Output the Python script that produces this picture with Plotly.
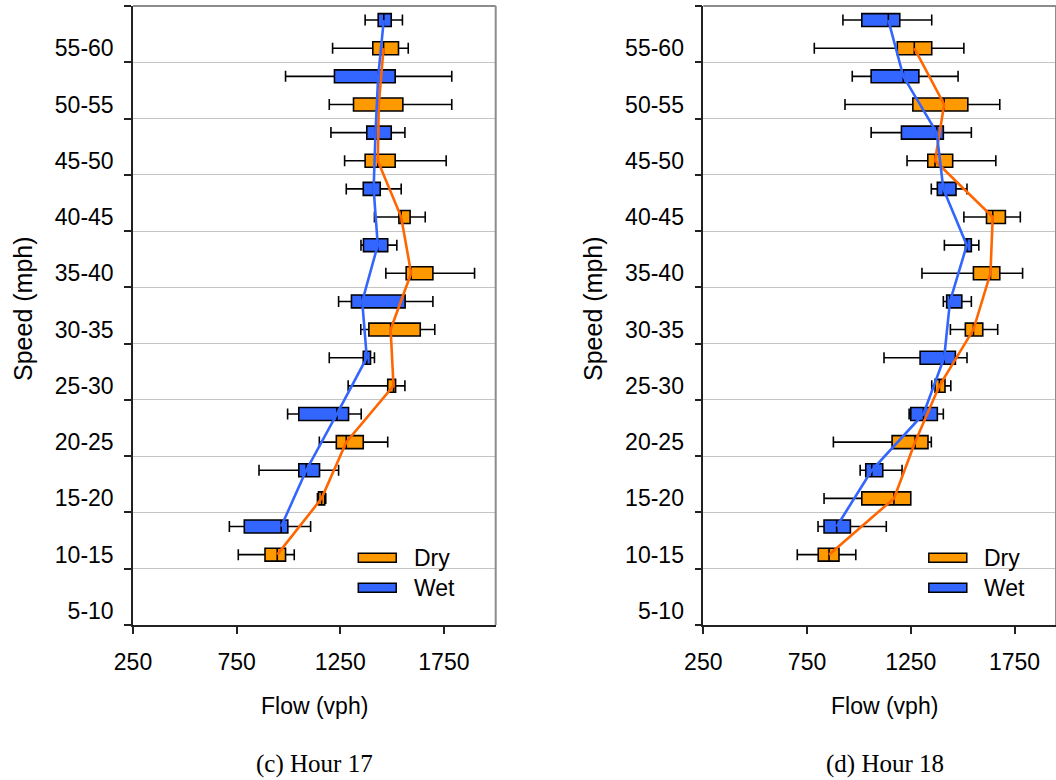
import plotly.graph_objects as go

# Speed bins (bottom to top); the 5-10 bin has no observations
speed_bins = ["5-10", "10-15", "15-20", "20-25", "25-30", "30-35",
              "35-40", "40-45", "45-50", "50-55", "55-60"]
data_bins = speed_bins[1:]

flow_ticks = [250, 750, 1250, 1750]

# Hour 17 flow distributions (vph), bins 10-15 ... 55-60
h17_dry_min = [758, 1140, 1149, 1288, 1349, 1470, 1415, 1271, 1197, 1213]
h17_dry_q1 = [887, 1145, 1231, 1479, 1388, 1568, 1533, 1370, 1314, 1407]
h17_dry_med = [946, 1160, 1279, 1507, 1493, 1592, 1544, 1431, 1436, 1459]
h17_dry_q3 = [986, 1175, 1361, 1517, 1636, 1697, 1587, 1515, 1552, 1531]
h17_dry_max = [1028, 1180, 1479, 1562, 1706, 1898, 1660, 1761, 1788, 1578]

h17_wet_min = [715, 858, 996, 1197, 1242, 1350, 1279, 1205, 986, 1370]
h17_wet_q1 = [787, 1050, 1050, 1361, 1304, 1362, 1361, 1378, 1222, 1433]
h17_wet_med = [965, 1086, 1234, 1378, 1356, 1431, 1411, 1420, 1433, 1460]
h17_wet_q3 = [997, 1150, 1290, 1396, 1563, 1479, 1443, 1496, 1515, 1496]
h17_wet_max = [1107, 1242, 1351, 1415, 1697, 1523, 1544, 1562, 1788, 1550]

# Hour 18 flow distributions (vph), bins 10-15 ... 55-60
h18_dry_min = [703, 832, 877, 1351, 1441, 1304, 1506, 1232, 933, 785]
h18_dry_q1 = [804, 1014, 1160, 1367, 1513, 1552, 1615, 1332, 1260, 1185]
h18_dry_med = [856, 1169, 1271, 1388, 1552, 1634, 1645, 1367, 1411, 1267]
h18_dry_q3 = [904, 1250, 1333, 1415, 1597, 1679, 1706, 1452, 1525, 1351]
h18_dry_max = [985, 1250, 1349, 1443, 1669, 1789, 1778, 1660, 1679, 1506]

h18_wet_min = [803, 1006, 1242, 1121, 1407, 1412, 1349, 1059, 968, 923]
h18_wet_q1 = [832, 1033, 1250, 1295, 1423, 1513, 1378, 1205, 1059, 1014]
h18_wet_med = [893, 1062, 1311, 1411, 1439, 1520, 1407, 1375, 1214, 1142]
h18_wet_q3 = [959, 1115, 1378, 1465, 1496, 1542, 1468, 1407, 1289, 1197]
h18_wet_max = [1132, 1208, 1407, 1521, 1542, 1578, 1521, 1542, 1478, 1351]

# ---- styling ----
FONT = "Liberation Sans, Arial, sans-serif"
SERIF = "Liberation Serif, Times New Roman, serif"
DRY_FILL, DRY_LINE = "#FF9900", "#FF6600"
WET_FILL, WET_LINE = "#3366FF", "#3366FF"
GRID = "#c4c4c4"
FRAME = "#8c8c8c"
TXT = 23

# each bin occupies one unit band; dry box in the lower part, wet in the upper
DRY_OFF, WET_OFF = 0.25, 0.75
dry_pos = [speed_bins.index(b) + DRY_OFF for b in data_bins]
wet_pos = [speed_bins.index(b) + WET_OFF for b in data_bins]
label_pos = [i + DRY_OFF for i in range(len(speed_bins))]

fig = go.Figure()


def add_panel(xa, ya, dry, wet):
    for stats, pos, fill in ((dry, dry_pos, DRY_FILL), (wet, wet_pos, WET_FILL)):
        mn, q1, med, q3, mx = stats
        fig.add_trace(go.Box(
            y=pos, q1=q1, median=med, q3=q3, lowerfence=mn, upperfence=mx,
            orientation="h", width=0.23, whiskerwidth=0.85,
            fillcolor=fill, line=dict(color="black", width=1.6),
            boxpoints=False, showlegend=False, hoverinfo="skip",
            xaxis=xa, yaxis=ya))
    for stats, pos, col in ((dry, dry_pos, DRY_LINE), (wet, wet_pos, WET_LINE)):
        fig.add_trace(go.Scatter(
            x=stats[2], y=pos, mode="lines", line=dict(color=col, width=2.6),
            showlegend=False, hoverinfo="skip", xaxis=xa, yaxis=ya))


add_panel("x", "y",
          (h17_dry_min, h17_dry_q1, h17_dry_med, h17_dry_q3, h17_dry_max),
          (h17_wet_min, h17_wet_q1, h17_wet_med, h17_wet_q3, h17_wet_max))
add_panel("x2", "y2",
          (h18_dry_min, h18_dry_q1, h18_dry_med, h18_dry_q3, h18_dry_max),
          (h18_wet_min, h18_wet_q1, h18_wet_med, h18_wet_q3, h18_wet_max))

W, H = 1056, 780
ML, MR, MT, MB = 133, 0, 6, 155
plot_w = W - ML - MR
left_dom = [0, 362.7 / plot_w]
right_dom = [(703.3 - ML) / plot_w, 1]


def xaxis(domain, rng, anchor):
    return dict(domain=domain, range=rng, anchor=anchor,
                tickmode="array", tickvals=flow_ticks,
                ticks="outside", ticklen=7, tickwidth=1.5, tickcolor="#222",
                showline=True, linecolor="#222", linewidth=1.5,
                showgrid=False, zeroline=False,
                tickfont=dict(family=FONT, size=TXT, color="black"),
                ticklabelstandoff=9)


def yaxis(anchor):
    return dict(domain=[0, 1], range=[0, len(speed_bins)], anchor=anchor,
                tickmode="array", tickvals=label_pos, ticktext=speed_bins,
                ticks="", showgrid=False, zeroline=False,
                showline=True, linecolor="#222", linewidth=1.5,
                tickfont=dict(family=FONT, size=TXT, color="black"),
                ticklabelstandoff=13,
                minor=dict(tick0=0, dtick=1, ticks="outside", ticklen=7,
                           tickwidth=1.5, tickcolor="#222",
                           showgrid=True, gridcolor=GRID, gridwidth=1))


fig.update_layout(
    width=W, height=H,
    margin=dict(l=ML, r=MR, t=MT, b=MB),
    paper_bgcolor="white", plot_bgcolor="white",
    boxmode="overlay",
    xaxis=xaxis(left_dom, [250, 2000], "y"),
    yaxis=yaxis("x"),
    xaxis2=xaxis(right_dom, [250, 1950], "y2"),
    yaxis2=yaxis("x2"),
)

shapes = []
annotations = []
for xa, ya, xref_dom in (("x", "y", "x domain"), ("x2", "y2", "x2 domain")):
    # grey plot-area frame on the top and right sides
    shapes.append(dict(type="line", xref=xref_dom, yref=ya + " domain",
                       x0=0, x1=1, y0=1, y1=1, line=dict(color=FRAME, width=2)))
    shapes.append(dict(type="line", xref=xref_dom, yref=ya + " domain",
                       x0=1, x1=1, y0=0, y1=1, line=dict(color=FRAME, width=2)))
    # legend keys
    for name, fill, yc in (("Dry", DRY_FILL, 1.196), ("Wet", WET_FILL, 0.663)):
        shapes.append(dict(type="rect", xref=xa, yref=ya,
                           x0=1337, x1=1520, y0=yc - 0.08, y1=yc + 0.08,
                           fillcolor=fill, line=dict(color="black", width=1.5)))
        annotations.append(dict(xref=xa, yref=ya, x=1594, y=yc, text=name,
                                xanchor="left", yanchor="middle", showarrow=False,
                                font=dict(family=FONT, size=TXT, color="black")))


def px_x(p):
    return (p - ML) / plot_w


def px_y(p):
    return (H - MB - p) / (H - MT - MB)


for cx, ycx, cap in ((314.5, 23, "(c) Hour 17"), (884.5, 593, "(d) Hour 18")):
    annotations.append(dict(xref="paper", yref="paper", x=px_x(cx), y=px_y(706),
                            text="Flow (vph)", showarrow=False,
                            xanchor="center", yanchor="middle",
                            font=dict(family=FONT, size=TXT, color="black")))
    annotations.append(dict(xref="paper", yref="paper", x=px_x(ycx), y=px_y(309),
                            text="Speed (mph)", showarrow=False, textangle=-90,
                            xanchor="center", yanchor="middle",
                            font=dict(family=FONT, size=25, color="black")))
    annotations.append(dict(xref="paper", yref="paper", x=px_x(cx), y=px_y(764),
                            text=cap, showarrow=False,
                            xanchor="center", yanchor="middle",
                            font=dict(family=SERIF, size=25, color="black")))

fig.update_layout(shapes=shapes, annotations=annotations)

fig.write_html("out.html")
